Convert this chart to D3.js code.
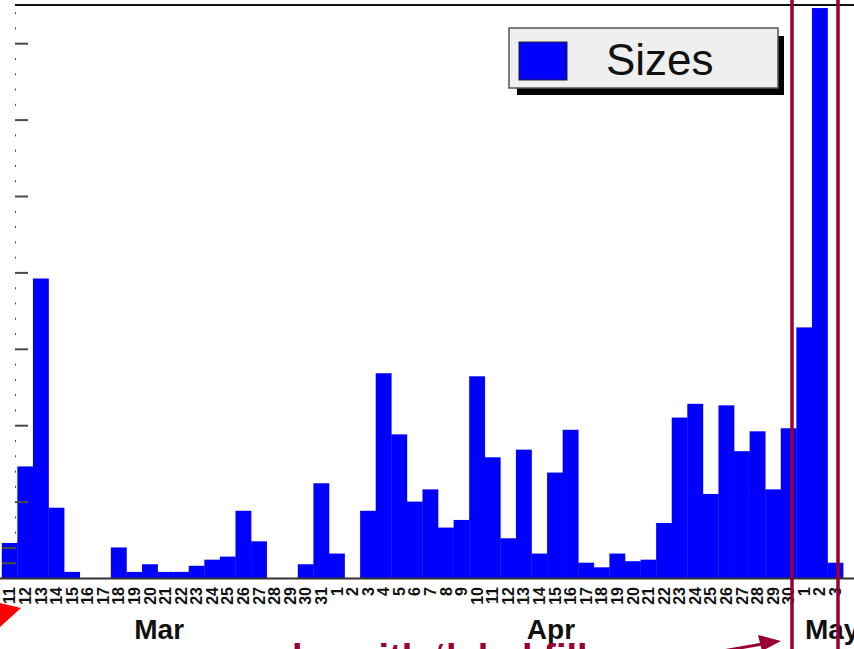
<!DOCTYPE html>
<html>
<head>
<meta charset="utf-8">
<script src="https://cdn.jsdelivr.net/npm/d3@7/dist/d3.min.js"></script>
<style>
  html, body { margin: 0; padding: 0; background: #fff; }
  svg { display: block; }
  text { font-family: "Liberation Sans", Arial, Helvetica, sans-serif; }
</style>
</head>
<body>
<script>
// Daily sizes, one bin per day from 11 March to 3 May
const dayLabels = [
  "11","12","13","14","15","16","17","18","19","20","21","22","23","24","25","26","27","28","29","30","31",
  "1","2","3","4","5","6","7","8","9","10","11","12","13","14","15","16","17","18","19","20",
  "21","22","23","24","25","26","27","28","29","30",
  "1","2","3"
];
const sizes = [
  23, 73, 196, 46, 4, 0, 0, 20, 4, 9, 4, 4, 8, 12, 14, 44, 24, 0, 0, 9, 62,
  16, 0, 44, 134, 94, 50, 58, 33, 38, 132, 79, 26, 84, 16, 69, 97, 10, 7, 16, 11,
  12, 36, 105, 114, 55, 113, 83, 96, 58, 98,
  164, 373, 10
];
const monthLabels = ["Mar", "Apr", "May"];
// month label anchors, in bin units along the day axis
const monthAnchors = [10.1, 35.25, 53.3];
const legendLabels = ["Sizes"];
const yMajorStep = 50;
const yMinorStep = 10;

const W = 854, H = 649;
const svg = d3.select("body").append("svg").attr("width", W).attr("height", H);

const x = d3.scaleLinear().domain([0, sizes.length]).range([1.8, 843.1]);
const y = d3.scaleLinear().domain([0, 375]).range([578, 5]);

// bars
svg.append("g").selectAll("rect").data(sizes).join("rect")
  .attr("x", (d, i) => x(i))
  .attr("width", (d, i) => x(i + 1) - x(i) + 0.3)
  .attr("y", d => y(d))
  .attr("height", d => y(0) - y(d))
  .attr("fill", "#0000ff");

// y axis ticks (drawn inside the frame, no labels shown)
const axisX = 2;
const minorTicks = d3.range(yMinorStep, 375, yMinorStep).filter(v => v % yMajorStep !== 0);
const majorTicks = d3.range(yMajorStep, 375, yMajorStep);
const yAxisMajor = d3.axisRight(y).tickValues(majorTicks).tickSize(26).tickFormat("");
const yAxisMinor = d3.axisRight(y).tickValues(minorTicks).tickSize(14).tickFormat("");
const gMinor = svg.append("g").attr("transform", `translate(${axisX},0)`).call(yAxisMinor);
const gMajor = svg.append("g").attr("transform", `translate(${axisX},0)`).call(yAxisMajor);
[gMinor, gMajor].forEach(g => {
  g.select(".domain").remove();
  g.selectAll("line").attr("stroke", "#4a4a4a").attr("stroke-width", 2);
});

// top frame edge
svg.append("line").attr("x1", 0).attr("x2", W).attr("y1", y(375)).attr("y2", y(375))
  .attr("stroke", "#111").attr("stroke-width", 2);

// left pad margin covers everything above the first bin
svg.append("rect").attr("x", 0).attr("y", 0).attr("width", 15).attr("height", y(sizes[0]))
  .attr("fill", "#fff");

// x axis line
svg.append("line").attr("x1", 0).attr("x2", W).attr("y1", y(0) + 0.5).attr("y2", y(0) + 0.5)
  .attr("stroke", "#333").attr("stroke-width", 2);

// vertical day labels
svg.append("g").selectAll("text").data(dayLabels).join("text")
  .attr("transform", (d, i) => `translate(${x(i + 0.5)},587) rotate(-90)`)
  .attr("text-anchor", "end")
  .attr("dy", "0.36em")
  .attr("font-size", 16)
  .attr("font-weight", "bold")
  .attr("fill", "#111")
  .text(d => d);

// month labels
svg.append("g").selectAll("text").data(monthLabels).join("text")
  .attr("x", (d, i) => x(monthAnchors[i]))
  .attr("y", 639)
  .attr("text-anchor", "middle")
  .attr("font-size", 28)
  .attr("font-weight", "bold")
  .attr("fill", "#111")
  .text(d => d);

// legend
const lg = svg.append("g");
lg.append("rect").attr("x", 517).attr("y", 36).attr("width", 267).attr("height", 59).attr("fill", "#000");
lg.append("rect").attr("x", 509).attr("y", 28).attr("width", 269).attr("height", 60)
  .attr("fill", "#efefef").attr("stroke", "#555").attr("stroke-width", 1.5);
lg.append("rect").attr("x", 519).attr("y", 42).attr("width", 48).attr("height", 38)
  .attr("fill", "#0000ff").attr("stroke", "#222").attr("stroke-width", 1);
lg.append("text").attr("x", 606).attr("y", 75).attr("font-size", 44).attr("fill", "#111")
  .text(legendLabels[0]);

// annotation overlay: range markers, arrows and caption
const maroon = "#990033";
[792, 838].forEach(px => {
  svg.append("line").attr("x1", px).attr("x2", px).attr("y1", 0).attr("y2", H)
    .attr("stroke", maroon).attr("stroke-width", 3.5);
});
svg.append("line").attr("x1", 700).attr("y1", 655).attr("x2", 765).attr("y2", 643.5)
  .attr("stroke", maroon).attr("stroke-width", 3);
svg.append("polygon").attr("points", "781,641 758,635 762,651").attr("fill", maroon);
svg.append("polygon").attr("points", "0,603 21,608 0,627").attr("fill", "#ff0000");
svg.append("text").attr("x", 292).attr("y", 671).attr("font-size", 38).attr("font-weight", "bold")
  .attr("fill", maroon).text("ho with \u2018label fill");
</script>
</body>
</html>
